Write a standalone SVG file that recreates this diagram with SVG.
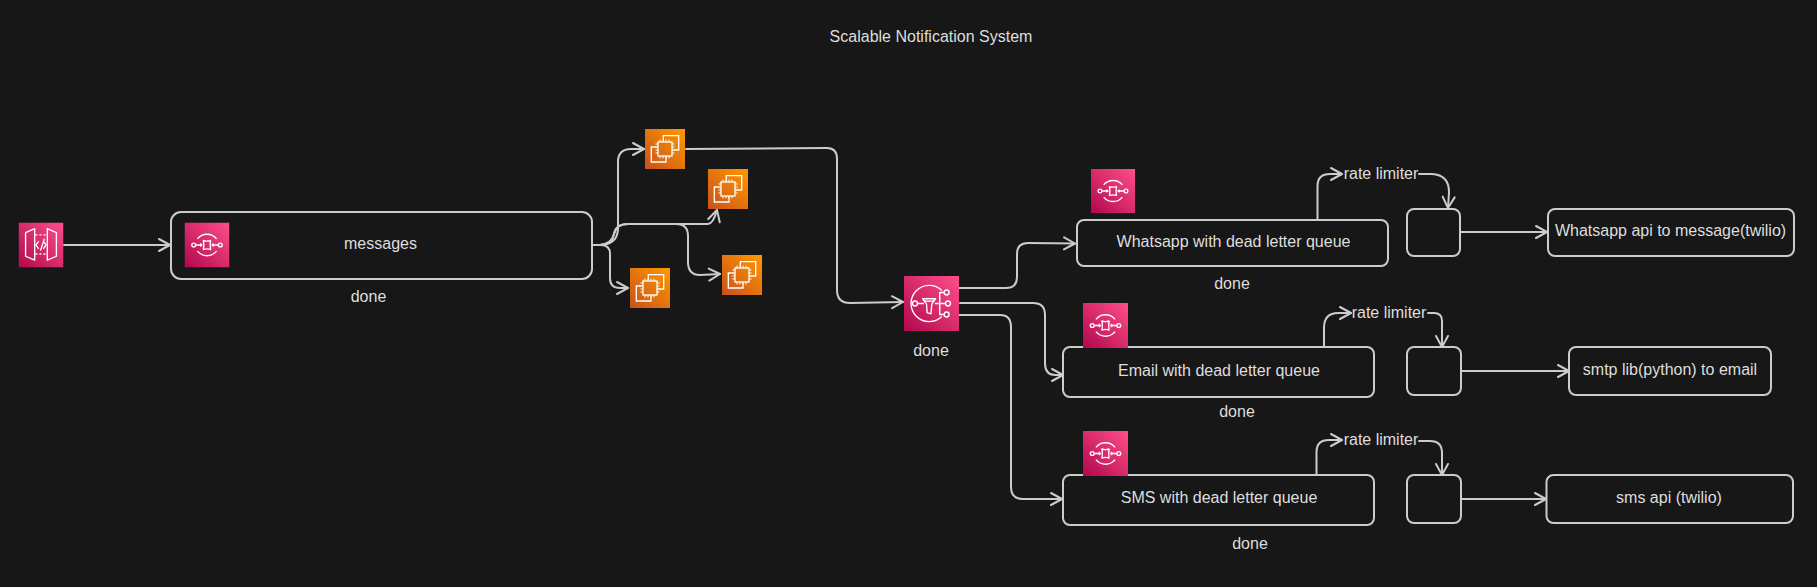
<svg xmlns="http://www.w3.org/2000/svg" width="1817" height="587" viewBox="0 0 1817 587">
<style>
text{font-family:"Liberation Sans",Arial,sans-serif;font-size:16px;fill:#dedede;text-anchor:middle}
.box{fill:#171717;stroke:#cccccc;stroke-width:2}
.conn{fill:none;stroke:#cccccc;stroke-width:2;stroke-linecap:round;stroke-linejoin:round}
.arr{marker-end:url(#head)}
.g{fill:none;stroke:#fff;stroke-width:1.2;stroke-linejoin:round}
.g.thin{stroke-width:1}
</style>
<defs>
<linearGradient id="pink" x1="0" y1="1" x2="1" y2="0"><stop offset="0" stop-color="#B0084D"/><stop offset="1" stop-color="#FF4F8B"/></linearGradient>
<linearGradient id="orange" x1="0" y1="1" x2="1" y2="0"><stop offset="0" stop-color="#C8511B"/><stop offset="1" stop-color="#FF9900"/></linearGradient>
<marker id="head" markerUnits="userSpaceOnUse" markerWidth="16" markerHeight="16" viewBox="-12 -8 14 16" refX="0" refY="0" orient="auto" overflow="visible">
<path d="M-11,-6 L0,0 L-11,6" fill="none" stroke="#cccccc" stroke-width="2" stroke-linecap="round" stroke-linejoin="round"/>
</marker>
<symbol id="ic-sqs" viewBox="0 0 40 40">
<rect width="40" height="40" fill="url(#pink)"/>
<g class="g">
<path d="M11.500,14.500 A11,11 0 0 1 28.500,14.500"/>
<path d="M11.500,25.500 A11,11 0 0 0 28.500,25.500"/>
<circle cx="8.200" cy="20" r="1.700"/><circle cx="31.800" cy="20" r="1.700"/>
<path d="M16.800,16 Q20,17 23.200,16 Q22.400,20 23.200,24 Q20,23 16.800,24 Q17.600,20 16.800,16Z"/>
<path d="M10,20H15.500M14,18.800L15.500,20L14,21.200M30,20H24.500M26,18.800L24.500,20L26,21.200"/>
</g>
</symbol>
<symbol id="ic-sns" viewBox="0 0 40 40">
<rect width="40" height="40" fill="url(#pink)"/>
<g class="g thin">
<path d="M27.500,10.500 A13.200,13.200 0 1 0 27.500,29.500"/>
<circle cx="8" cy="20" r="1.800"/>
<circle cx="31" cy="12" r="1.800"/><circle cx="32" cy="20" r="1.800"/><circle cx="31" cy="28" r="1.800"/>
<path d="M9.800,20H14.500M22.500,20H30.200M29.200,12H26V28H29.200"/>
<path d="M13.500,16.500H23L20.200,20.500L19.600,27.500L16.800,26.600L16.400,20.500Z"/>
<path d="M14.200,17.700Q18.200,19 22.300,17.700"/>
</g>
</symbol>
<symbol id="ic-ec2" viewBox="0 0 40 40">
<rect width="40" height="40" fill="url(#orange)"/>
<g fill="none" stroke="#fff">
<path stroke-width="1.300" d="M18.300,12V6.700H33.700V21H28.300M11.700,18H6.300V33H21V28"/>
<rect x="13" y="13" width="14" height="14" stroke-width="1.300"/>
<path stroke-width="1" d="M15,10.500V13M18,10.500V13M21,10.500V13M24,10.500V13M15,27V29.500M18,27V29.500M21,27V29.500M24,27V29.500M10.500,15H13M10.500,18H13M10.500,21H13M10.500,24H13M27,15H29.500M27,18H29.500M27,21H29.500M27,24H29.500"/>
</g>
</symbol>
<symbol id="ic-api" viewBox="0 0 40 40">
<rect width="40" height="40" fill="url(#pink)"/>
<g class="g">
<path d="M6.300,9L14.400,5.500V33.500L6.300,30Z"/>
<path d="M25.600,5.500L33.700,9V30L25.600,33.500Z"/>
<path stroke-dasharray="1.800 1.800" d="M15,11H25M15,28H25"/>
<path d="M18,16.500L15.500,20L18,23.500M23,14.500L19.500,25M22,16.500L24.500,20L22,23.500"/>
</g>
</symbol>
</defs>
<rect id="background" width="1817" height="587" fill="#171717"/>
<text id="title" x="931" y="42">Scalable Notification System</text>

<g id="connectors">
<path class="conn arr" d="M64,245H170"/>
<path class="conn arr" d="M593,245H603Q618,243 618,228V162Q618,149 631,149H644"/>
<path class="conn arr" d="M593,245H600Q612,244 614,234Q616,224 628,224H708Q713,224 717,210"/>
<path class="conn arr" d="M593,245H600Q612,244 614,234Q616,224 628,224H676Q688,224 688,236V262Q688,275 700,275L720,274"/>
<path class="conn arr" d="M593,245H601Q610,245 610,254V278Q610,288 620,288H628"/>
<path class="conn arr" d="M686,149L827,148Q837,148 837,159V290Q837,303 850,303L903,302"/>
<path class="conn arr" d="M957,288H1006Q1017,288 1017,277V254Q1017,243 1028,243L1075,243.500"/>
<path class="conn arr" d="M960,303H1033Q1045,303 1045,315V363Q1045,375 1055,375H1063"/>
<path class="conn arr" d="M957,315H1000Q1011,315 1011,327V487Q1011,499 1023,499H1062"/>
<path class="conn arr" d="M1317.500,219V186Q1317.500,174 1330,174H1342"/>
<path class="conn arr" d="M1419,174H1432Q1449,175 1449,192L1448,208"/>
<path class="conn arr" d="M1461,232H1547"/>
<path class="conn arr" d="M1324,347V328Q1324,313 1338,313H1351"/>
<path class="conn arr" d="M1428,313H1434Q1442,313 1442,321V347"/>
<path class="conn arr" d="M1461,371H1569"/>
<path class="conn arr" d="M1316.500,475V452Q1316.500,440 1329,440H1342"/>
<path class="conn arr" d="M1419,441H1430Q1442,441 1442,453V475"/>
<path class="conn arr" d="M1461,499H1546"/>
</g>

<g id="api-gateway"><use href="#ic-api" x="18.500" y="222.500" width="45" height="45"/></g>

<g id="messages">
<rect class="box" x="171" y="212" width="421" height="67" rx="10"/>
<use href="#ic-sqs" x="184.500" y="222.500" width="45" height="45"/>
<text x="380.500" y="249">messages</text>
<text x="368.500" y="302">done</text>
</g>

<g id="ec2-1"><use href="#ic-ec2" x="645" y="129" width="40" height="40"/></g>
<g id="ec2-2"><use href="#ic-ec2" x="708" y="169" width="40" height="40"/></g>
<g id="ec2-3"><use href="#ic-ec2" x="722" y="255" width="40" height="40"/></g>
<g id="ec2-4"><use href="#ic-ec2" x="630" y="268" width="40" height="40"/></g>

<g id="sns-topic">
<use href="#ic-sns" x="904" y="276" width="55" height="55"/>
<text x="931" y="356">done</text>
</g>

<g id="whatsapp-queue">
<rect class="box" x="1077" y="220" width="311" height="46" rx="7"/>
<use href="#ic-sqs" x="1091" y="169" width="44" height="44"/>
<text x="1233.500" y="247">Whatsapp with dead letter queue</text>
<text x="1232" y="289">done</text>
</g>
<g id="email-queue">
<rect class="box" x="1063" y="347" width="311" height="50" rx="7"/>
<use href="#ic-sqs" x="1083" y="303" width="45" height="45"/>
<text x="1219" y="376">Email with dead letter queue</text>
<text x="1237" y="417">done</text>
</g>
<g id="sms-queue">
<rect class="box" x="1063" y="475" width="311" height="50" rx="7"/>
<use href="#ic-sqs" x="1083" y="431" width="45" height="45"/>
<text x="1219" y="503">SMS with dead letter queue</text>
<text x="1250" y="549">done</text>
</g>

<g id="rate-label-1"><text x="1381" y="179">rate limiter</text></g>
<g id="rate-label-2"><text x="1389" y="318">rate limiter</text></g>
<g id="rate-label-3"><text x="1381" y="445">rate limiter</text></g>

<g id="limiter-1"><rect class="box" x="1407" y="209" width="53" height="47" rx="7"/></g>
<g id="limiter-2"><rect class="box" x="1407" y="347" width="54" height="48" rx="7"/></g>
<g id="limiter-3"><rect class="box" x="1407" y="475" width="54" height="48" rx="7"/></g>

<g id="whatsapp-api">
<rect class="box" x="1548" y="209" width="246" height="47" rx="7"/>
<text x="1670.500" y="236">Whatsapp api to message(twilio)</text>
</g>
<g id="smtp">
<rect class="box" x="1569" y="347" width="202" height="48" rx="7"/>
<text x="1670" y="375">smtp lib(python) to email</text>
</g>
<g id="sms-api">
<rect class="box" x="1546.500" y="475" width="246.500" height="48" rx="7"/>
<text x="1669" y="503">sms api (twilio)</text>
</g>
</svg>
